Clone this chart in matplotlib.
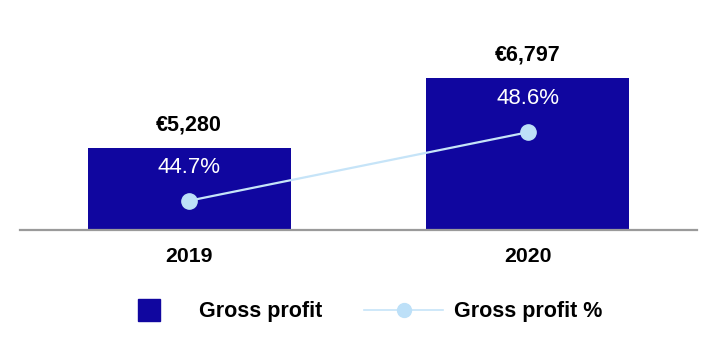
import matplotlib
matplotlib.use("Agg")
import matplotlib.pyplot as plt
from matplotlib.lines import Line2D

years = ["2019", "2020"]
gross_profit = [5280, 6797]
gross_profit_pct = [44.7, 48.6]
bar_labels = ["€5,280", "€6,797"]
pct_labels = ["44.7%", "48.6%"]

plt.rcParams['font.family'] = ['Liberation Sans', 'DejaVu Sans']

BAR = "#10069F"
LINE = "#c6e4f8"
MARK = "#bde0f8"

fig = plt.figure(figsize=(7.16, 3.4), dpi=100)
ax = fig.add_axes([20/716, 110/340, 677/716, 210/340])
x = list(range(len(years)))
ax.bar(x, gross_profit, width=0.60, color=BAR, zorder=2)
ax.set_xlim(-0.5, 1.5)
ax.set_ylim(3500, 8046)
for s in ["top", "right", "left"]:
    ax.spines[s].set_visible(False)
ax.spines["bottom"].set_color("#9a9a9a")
ax.spines["bottom"].set_linewidth(1.6)
ax.set_yticks([])
ax.set_xticks(x)
ax.set_xticklabels(years, fontsize=15.3, fontweight="bold")
ax.tick_params(axis="x", length=0, pad=12)
for xi, v, lab in zip(x, gross_profit, bar_labels):
    ax.annotate(lab, (xi, v), xytext=(0, 16.5), textcoords="offset points",
                ha="center", va="center", fontsize=15.5, fontweight="bold", color="black")

ax2 = ax.twinx()
ax2.set_ylim(43.03, 55.0)
ax2.axis("off")
ax2.plot(x, gross_profit_pct, color=LINE, lw=1.6, marker="o", ms=11,
         markerfacecolor=MARK, markeredgecolor=MARK, zorder=3)
for xi, v, lab in zip(x, gross_profit_pct, pct_labels):
    ax2.annotate(lab, (xi, v), xytext=(0, 24), textcoords="offset points",
                 ha="center", va="center", fontsize=16, color="white")

h1 = Line2D([], [], linestyle="none", marker="s", ms=15.8, markerfacecolor=BAR,
            markeredgecolor=BAR)
h2 = Line2D([], [], color=LINE, lw=1.2, marker="o", ms=10,
            markerfacecolor=MARK, markeredgecolor=MARK)
fig.legend([h1, h2], ["Gross profit", "Gross profit %"], loc="center",
           bbox_to_anchor=(356/716, 28/340), ncol=2, frameon=False,
           prop={"size": 15.5, "weight": "bold"}, handlelength=3.67,
           handletextpad=0.51, columnspacing=1.95, borderpad=0, borderaxespad=0)

fig.savefig("out.png", dpi=100)
